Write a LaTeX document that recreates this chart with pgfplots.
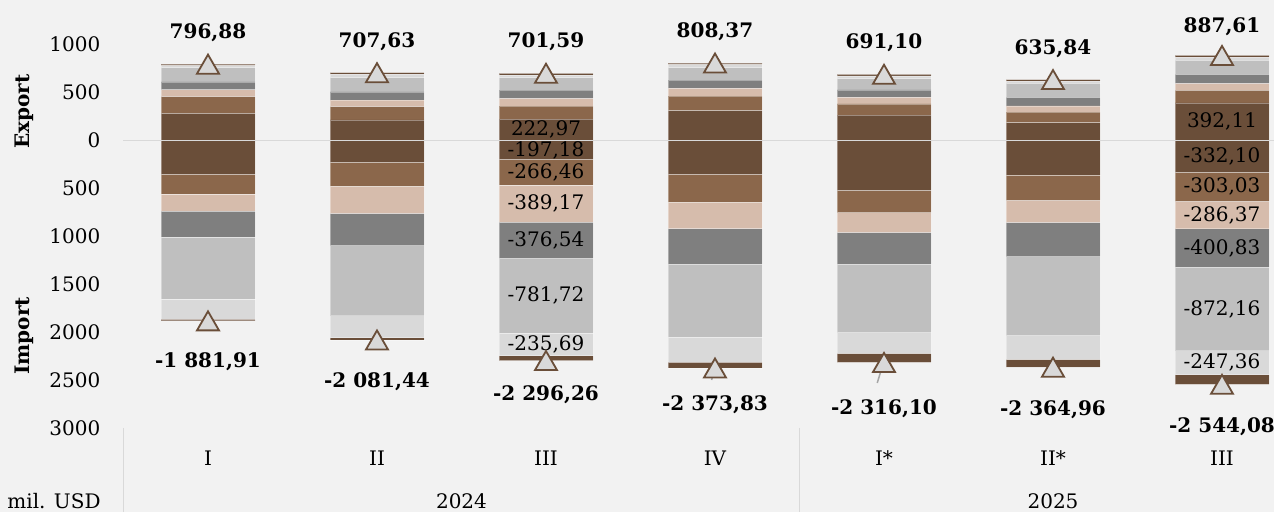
\documentclass[border=0pt]{standalone}
\usepackage{pgfplots}
\pgfplotsset{compat=1.18}
\usepackage{pgfplotstable}
\usepackage{fontspec}
\setmainfont{DejaVu Serif}

\definecolor{bg}{RGB}{242,242,242}
\definecolor{brownD}{RGB}{106,78,57}
\definecolor{brownM}{RGB}{139,103,75}
\definecolor{pinkL}{RGB}{214,188,172}
\definecolor{grayD}{RGB}{127,127,127}
\definecolor{grayL}{RGB}{191,191,191}
\definecolor{grayLL}{RGB}{217,217,217}
\definecolor{linec}{RGB}{217,217,217}
\definecolor{leader}{RGB}{166,166,166}

% export components (mil. USD), bottom to top
\pgfplotstableread{
x s1     s2  s3 s4 s5  s6 s7    l1
0 284    174 70 83 149 20 16.88 {}
1 214    139 67 87 149 34 17.63 {}
2 222.97 136 77 90 129 28 18.62 222,97
3 311    153 80 87 129 31 17.37 {}
4 266    115 70 76 118 28 18.10 {}
5 186    111 63 90 146 22 17.84 {}
6 392.11 132 70 97 146 31 19.50 392,11
}\exportdata

% import components (mil. USD), top to bottom
\pgfplotstableread{
x s1      s2      s3      s4      s5      s6      s7      l1      l2      l3      l4      l5      l6
0 -353    -205    -177    -271    -647    -212    -16.91  {}      {}      {}      {}      {}      {}
1 -228    -247    -285    -338    -731    -230    -22.44  {}      {}      {}      {}      {}      {}
2 -197.18 -266.46 -389.17 -376.54 -781.72 -235.69 -49.50  -197,18 -266,46 -389,17 -376,54 -781,72 -235,69
3 -353    -289    -278    -369    -762    -261    -61.83  {}      {}      {}      {}      {}      {}
4 -520    -233    -205    -331    -717    -216    -94.10  {}      {}      {}      {}      {}      {}
5 -360    -264    -230    -358    -825    -247    -80.96  {}      {}      {}      {}      {}      {}
6 -332.10 -303.03 -286.37 -400.83 -872.16 -247.36 -102.23 -332,10 -303,03 -286,37 -400,83 -872,16 -247,36
}\importdata

% totals with label text and label offset (pt)
\pgfplotstableread{
x exp    ept    edy   imp      ipt          idy
0 796.88 796,88 14.6  -1881.91 {-1 881,91}  -21.7
1 707.63 707,63 14.2  -2081.44 {-2 081,44}  -22.0
2 701.59 701,59 14.5  -2296.26 {-2 296,26}  -18.2
3 808.37 808,37 14.4  -2373.83 {-2 373,83}  -19.8
4 691.10 691,10 14.5  -2316.10 {-2 316,10}  -24.2
5 635.84 635,84 14.0  -2364.96 {-2 364,96}  -22.7
6 887.61 887,61 13.2  -2544.08 {-2 544,08}  -22.4
}\totals

\pgfplotsset{
  base/.style={
    scale only axis, width=575.25pt, height=191.666pt,
    xmin=-0.5, xmax=6.30769, ymin=-3000, ymax=1000,
    enlargelimits=false, clip=false,
    axis line style={draw=none}, tick style={draw=none},
    at={(0,0)}, anchor=south west,
  },
  seg/.style={fill=#1, draw=white, draw opacity=0.35, line width=0.4pt},
  % value labels sit in the middle of their segment
  seglab/.style={
    point meta=explicit symbolic, nodes near coords,
    every node near coord/.append style={anchor=center, inner sep=0pt,
      text=black, font=\normalfont},
  },
}

\begin{document}
\begin{tikzpicture}[font=\fontsize{10pt}{12pt}\selectfont]
\fill[bg] (-61.75pt,-42pt) rectangle (575.25pt,214pt);

% export bars
\begin{axis}[base, ybar stacked, bar width=47pt,
  ytick={-3000,-2500,...,1000},
  yticklabels={3000,2500,2000,1500,1000,500,0,500,1000},
  yticklabel style={anchor=east, inner sep=0pt, xshift=-11.4pt},
  xtick={0,...,6}, xticklabels={I,II,III,IV,I*,II*,III},
  xticklabel style={anchor=base, inner sep=0pt, yshift=-19pt},
]
\addplot[seg=brownD, seglab] table[x=x, y=s1, meta=l1] \exportdata;
\addplot[seg=brownM] table[x=x, y=s2] \exportdata;
\addplot[seg=pinkL]  table[x=x, y=s3] \exportdata;
\addplot[seg=grayD]  table[x=x, y=s4] \exportdata;
\addplot[seg=grayL]  table[x=x, y=s5] \exportdata;
\addplot[seg=grayLL] table[x=x, y=s6] \exportdata;
\addplot[seg=brownD] table[x=x, y=s7] \exportdata;
\end{axis}

% import bars
\begin{axis}[base, hide axis, ybar stacked, bar width=47pt]
\addplot[seg=brownD, seglab] table[x=x, y=s1, meta=l1] \importdata;
\addplot[seg=brownM, seglab] table[x=x, y=s2, meta=l2] \importdata;
\addplot[seg=pinkL,  seglab] table[x=x, y=s3, meta=l3] \importdata;
\addplot[seg=grayD,  seglab] table[x=x, y=s4, meta=l4] \importdata;
\addplot[seg=grayL,  seglab] table[x=x, y=s5, meta=l5] \importdata;
\addplot[seg=grayLL, seglab] table[x=x, y=s6, meta=l6] \importdata;
\addplot[seg=brownD] table[x=x, y=s7] \importdata;
\end{axis}

% zero line, totals, axis titles and group labels
\begin{axis}[base, hide axis]
\draw[linec, line width=0.75pt] (axis cs:-0.5,0) -- (axis cs:6.30769,0);
\draw[linec, line width=0.7pt] (axis cs:-0.5,-3000) -- (axis cs:-0.5,-3900);
\draw[linec, line width=0.7pt] (axis cs:3.5,-3000) -- (axis cs:3.5,-3900);

\addplot[only marks, mark=triangle*, mark size=6.35pt,
  mark options={fill=grayLL, draw=brownD, line width=0.9pt, yshift=-1.59pt},
  point meta=explicit symbolic, nodes near coords,
  visualization depends on={\thisrow{edy} \as \labdy},
  every node near coord/.append style={anchor=base, inner sep=0pt,
    font=\bfseries, text=black, yshift=\labdy pt}]
  table[x=x, y=exp, meta=ept] \totals;
\addplot[only marks, mark=triangle*, mark size=6.35pt,
  mark options={fill=grayLL, draw=brownD, line width=0.9pt, yshift=-1.59pt},
  point meta=explicit symbolic, nodes near coords,
  visualization depends on={\thisrow{idy} \as \labdy},
  every node near coord/.append style={anchor=base, inner sep=0pt,
    font=\bfseries, text=black, yshift=\labdy pt}]
  table[x=x, y=imp, meta=ipt] \totals;

% label leader lines
\draw[leader, line width=0.75pt] (axis cs:3.0,-2360) -- (axis cs:2.98,-2499);
\draw[leader, line width=0.75pt] (axis cs:3.996,-2322) -- (axis cs:3.96,-2530);

\node[rotate=90, font=\bfseries, anchor=center] at (axis cs:-1.0888,300) {Export};
\node[rotate=90, font=\bfseries, anchor=center] at (axis cs:-1.0888,-2040) {Import};
\node[anchor=base west, inner sep=0pt] at (axis cs:-1.1893,-3835) {mil. USD};
\node[anchor=base, inner sep=0pt] at (axis cs:1.5,-3835) {2024};
\node[anchor=base, inner sep=0pt] at (axis cs:5,-3835) {2025};
\end{axis}

\pgfresetboundingbox
\path[use as bounding box] (-61.75pt,-42pt) rectangle (575.25pt,214pt);
\end{tikzpicture}
\end{document}
